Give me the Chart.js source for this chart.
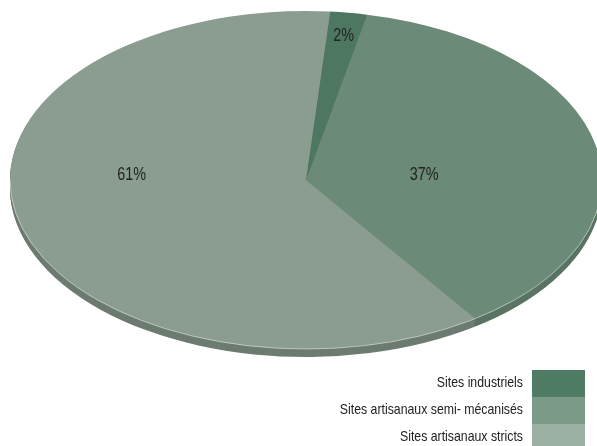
<!DOCTYPE html>
<html>
<head>
<meta charset="utf-8">
<script src="https://cdn.jsdelivr.net/npm/chart.js@4.4.0/dist/chart.umd.min.js"></script>
<style>
  html, body { margin: 0; padding: 0; background: #fff; }
  #wrap { width: 597px; height: 446px; position: relative; }
</style>
</head>
<body>
<div id="wrap"><canvas id="pieChart" width="597" height="446"></canvas></div>
<script>
const categories = ['Sites industriels', 'Sites artisanaux semi- mécanisés', 'Sites artisanaux stricts'];
const shares = [2, 37, 61];
const topColors = ['#4e7762', '#6b8a77', '#8a9d90'];
const sideColors = ['#3f5f4f', '#5a7464', '#6d7b71'];
const legendColors = ['#507b65', '#7b9a87', '#9cb1a3'];

// ellipse layout of the flattened pie
const CX = 306, CY = 180, RX = 296, RY = 169, DEPTH = 8;
const FONT = '"Liberation Sans", Arial, sans-serif';
// label placement: distance factor and angle shift (deg) per slice
const labelDist = [0.86, 0.40, 0.59];
const labelShift = [0.2, 7.2, 18];

function squash(chart, ctx, dy) {
  const arc = chart.getDatasetMeta(0).data[0];
  const r = arc.outerRadius;
  ctx.translate(CX, CY + dy);
  ctx.scale(RX / r, RY / r);
  ctx.translate(-arc.x, -arc.y);
}

function narrowText(ctx, text, x, y, sx) {
  ctx.save();
  ctx.translate(x, y);
  ctx.scale(sx, 1);
  ctx.fillText(text, 0, 0);
  ctx.restore();
}

const pie3d = {
  id: 'pie3d',
  beforeDatasetsDraw(chart) {
    const ctx = chart.ctx;
    const meta = chart.getDatasetMeta(0);
    // side walls: stack of darker copies below the top face
    for (let d = DEPTH; d >= 1; d--) {
      ctx.save();
      squash(chart, ctx, d);
      meta.data.forEach((a, i) => {
        ctx.beginPath();
        ctx.moveTo(a.x, a.y);
        ctx.arc(a.x, a.y, a.outerRadius, a.startAngle, a.endAngle);
        ctx.closePath();
        ctx.fillStyle = sideColors[i];
        ctx.fill();
      });
      ctx.restore();
    }
    ctx.save();
    squash(chart, ctx, 0);
  },
  afterDatasetsDraw(chart) {
    const ctx = chart.ctx;
    const meta = chart.getDatasetMeta(0);
    // light rim along the lower edge
    const a0 = meta.data[0];
    ctx.beginPath();
    ctx.arc(a0.x, a0.y, a0.outerRadius, 0, Math.PI);
    ctx.restore();
    ctx.save();
    ctx.strokeStyle = 'rgba(235,240,236,0.7)';
    ctx.lineWidth = 0.8;
    ctx.stroke();
    ctx.restore();

    // percentage labels placed on the ellipse
    ctx.save();
    ctx.font = '18px ' + FONT;
    ctx.fillStyle = '#222';
    ctx.textAlign = 'center';
    ctx.textBaseline = 'middle';
    meta.data.forEach((a, i) => {
      const mid = (a.startAngle + a.endAngle) / 2 + labelShift[i] * Math.PI / 180;
      const x = CX + Math.cos(mid) * RX * labelDist[i];
      const y = CY + Math.sin(mid) * RY * labelDist[i];
      narrowText(ctx, shares[i] + '%', x, y, 0.8);
    });
    ctx.restore();

    // legend, boxes on the right
    ctx.save();
    ctx.font = '15px ' + FONT;
    ctx.textAlign = 'right';
    ctx.textBaseline = 'middle';
    categories.forEach((c, i) => {
      const y = 370 + i * 27;
      ctx.fillStyle = legendColors[i];
      ctx.fillRect(532, y, 53, 27);
      ctx.fillStyle = '#222';
      narrowText(ctx, c, 523, y + 13, 0.82);
    });
    ctx.restore();
  }
};

new Chart(document.getElementById('pieChart'), {
  type: 'pie',
  data: {
    labels: categories,
    datasets: [{
      data: shares,
      backgroundColor: topColors,
      borderWidth: 0
    }]
  },
  options: {
    responsive: false,
    animation: false,
    rotation: 4.7,
    plugins: {
      legend: { display: false },
      tooltip: { enabled: false }
    }
  },
  plugins: [pie3d]
});
</script>
</body>
</html>
